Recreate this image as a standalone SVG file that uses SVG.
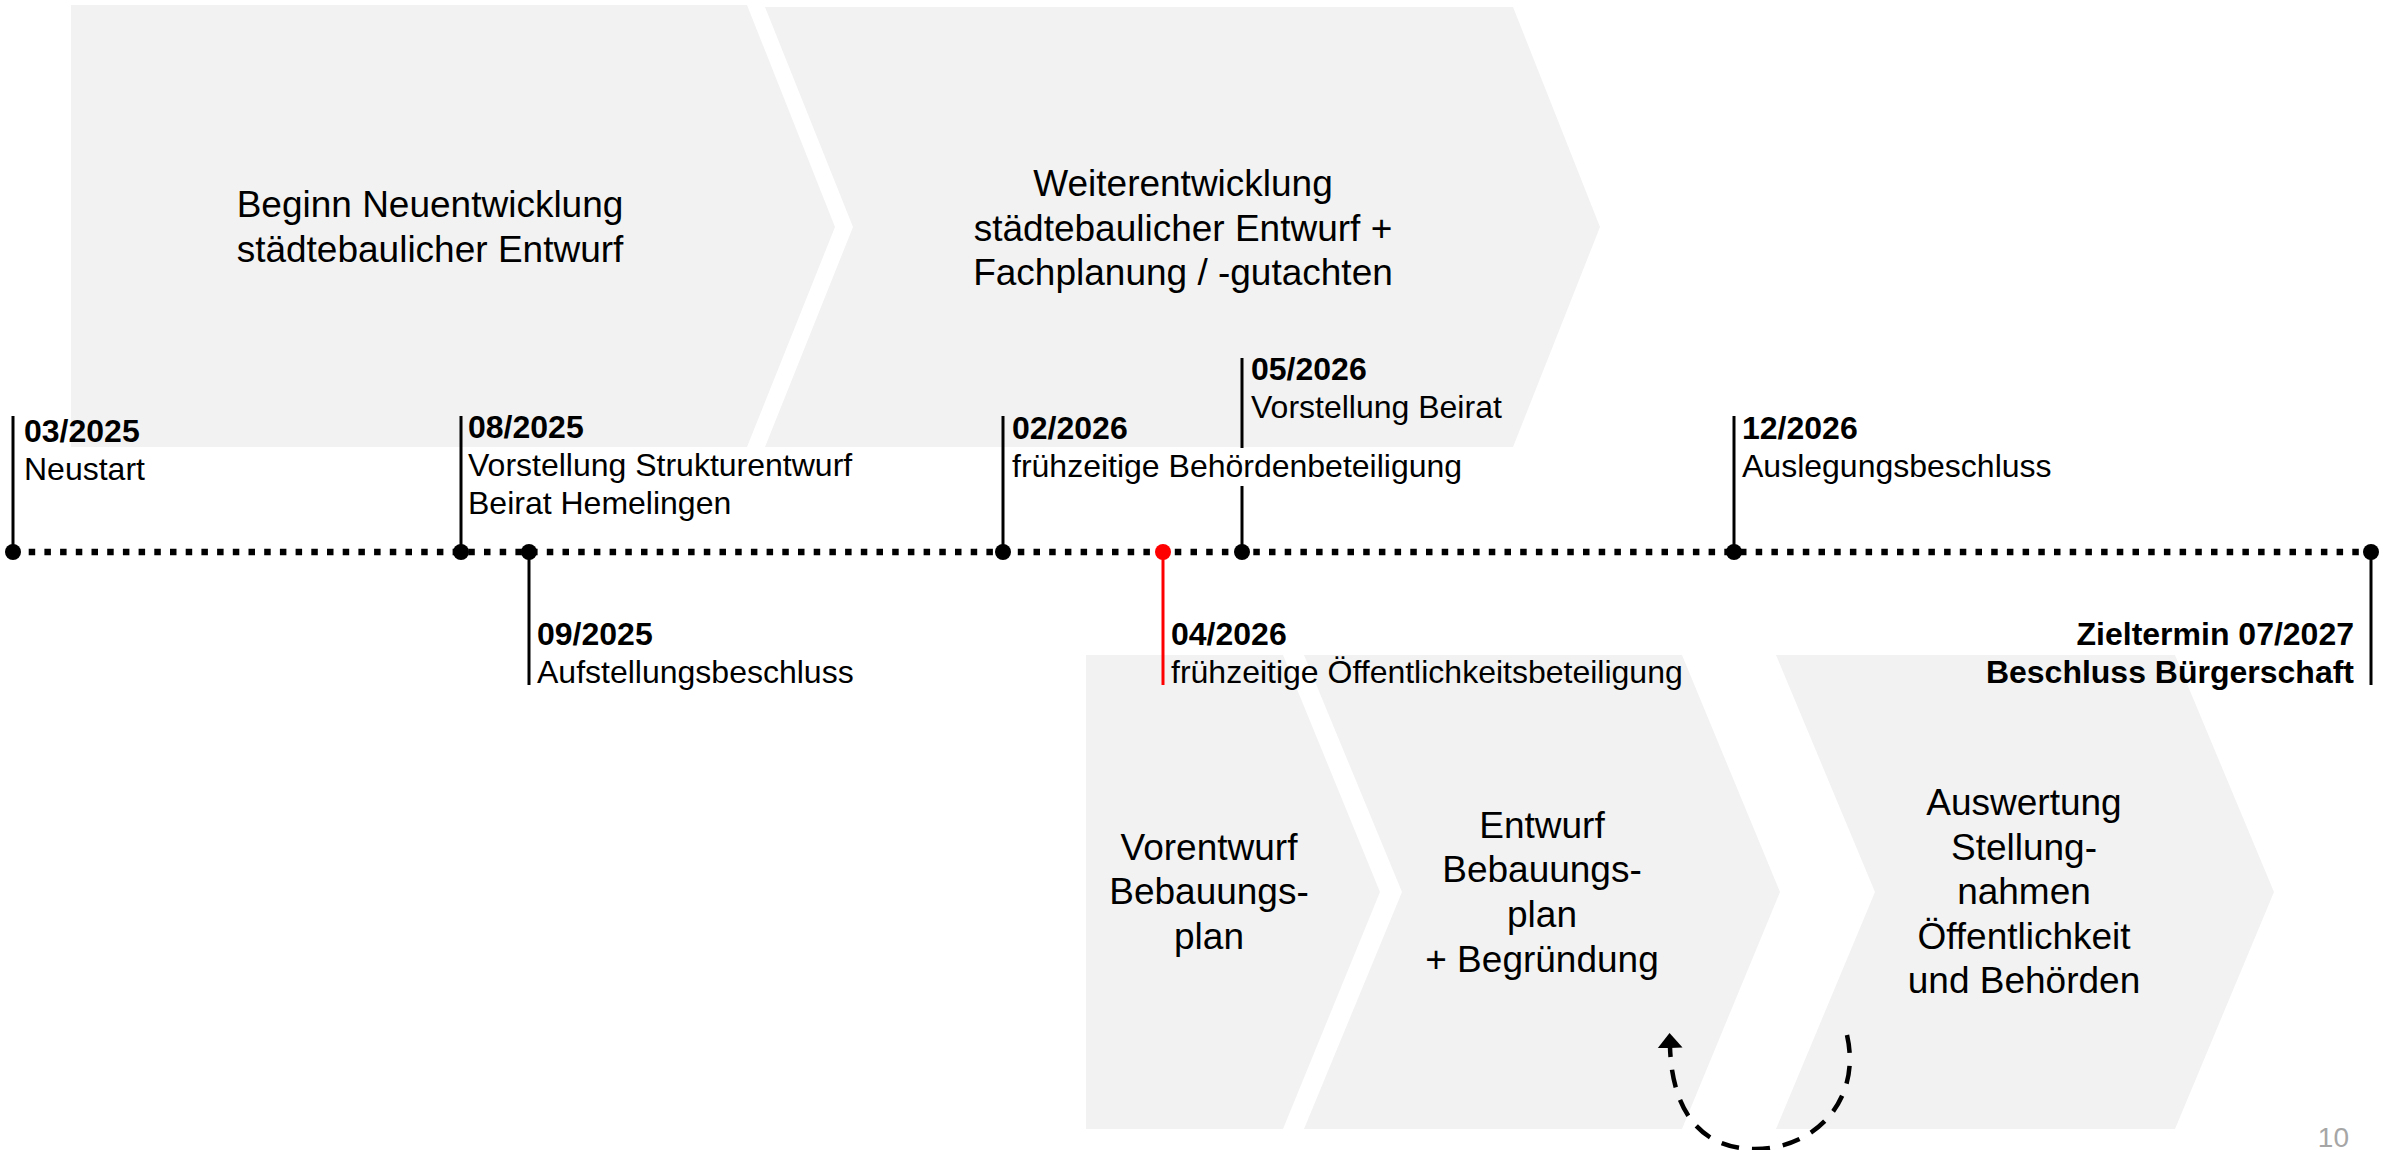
<svg xmlns="http://www.w3.org/2000/svg" width="2395" height="1150" viewBox="0 0 2395 1150">
<style>
.chev{fill:#F2F2F2;stroke:none}
.ct{font-family:"Liberation Sans",Arial,sans-serif;font-size:37px;fill:#000;text-anchor:middle}
.lb{font-family:"Liberation Sans",Arial,sans-serif;font-size:32px;fill:#000}
.b{font-weight:bold}
.tick{stroke:#000;stroke-width:3;fill:none}
.red{stroke:#FF0000;stroke-width:3;fill:none}
.dot{fill:#000}
</style>
<defs>
<marker id="arr" viewBox="0 0 15 25" refX="1" refY="12.5" markerWidth="15" markerHeight="25" markerUnits="userSpaceOnUse" orient="auto">
<path d="M0,0 L15,12.5 L0,25 z" fill="#000"/>
</marker>
</defs>
<rect width="2395" height="1150" fill="#FFFFFF"/>

<g id="phase-beginn">
<polygon class="chev" points="71,5 747,5 835,227 747,447 71,447"/>
<text class="ct" x="430" y="217">Beginn Neuentwicklung</text>
<text class="ct" x="430" y="262">städtebaulicher Entwurf</text>
</g>
<g id="phase-weiterentwicklung">
<polygon class="chev" points="765,7 1513,7 1600,227 1513,447 765,447 853,227"/>
<text class="ct" x="1183" y="196">Weiterentwicklung</text>
<text class="ct" x="1183" y="241">städtebaulicher Entwurf +</text>
<text class="ct" x="1183" y="285">Fachplanung / -gutachten</text>
</g>
<g id="phase-vorentwurf">
<polygon class="chev" points="1086,655 1283,655 1380,892 1283,1129 1086,1129"/>
<text class="ct" x="1209" y="860">Vorentwurf</text>
<text class="ct" x="1209" y="904">Bebauungs-</text>
<text class="ct" x="1209" y="949">plan</text>
</g>
<g id="phase-entwurf">
<polygon class="chev" points="1304,655 1682,655 1780,892 1682,1129 1304,1129 1402,892"/>
<text class="ct" x="1542" y="838">Entwurf</text>
<text class="ct" x="1542" y="882">Bebauungs-</text>
<text class="ct" x="1542" y="927">plan</text>
<text class="ct" x="1542" y="972">+ Begründung</text>
</g>
<g id="phase-auswertung">
<polygon class="chev" points="1776,655 2175,655 2274,892 2175,1129 1776,1129 1875,892"/>
<text class="ct" x="2024" y="815">Auswertung</text>
<text class="ct" x="2024" y="860">Stellung-</text>
<text class="ct" x="2024" y="904">nahmen</text>
<text class="ct" x="2024" y="949">Öffentlichkeit</text>
<text class="ct" x="2024" y="993">und Behörden</text>
</g>

<g id="connectors">
<line x1="13" y1="552" x2="2371" y2="552" stroke="#000" stroke-width="6.5" stroke-dasharray="6.5 9.2"/>
<path d="M1847,1035 C1862,1100 1815,1149 1755,1149 C1700,1149 1672,1110 1670,1047" fill="none" stroke="#000" stroke-width="4.5" stroke-dasharray="18 13" marker-end="url(#arr)"/>
</g>

<g id="m-03-2025">
<line class="tick" x1="13" y1="416" x2="13" y2="552"/>
<circle class="dot" cx="13" cy="552" r="8"/>
<text class="lb b" x="24" y="442">03/2025</text>
<text class="lb" x="24" y="480">Neustart</text>
</g>
<g id="m-08-2025">
<line class="tick" x1="461" y1="416" x2="461" y2="552"/>
<circle class="dot" cx="461" cy="552" r="8"/>
<text class="lb b" x="468" y="438">08/2025</text>
<text class="lb" x="468" y="476">Vorstellung Strukturentwurf</text>
<text class="lb" x="468" y="514">Beirat Hemelingen</text>
</g>
<g id="m-09-2025">
<line class="tick" x1="529" y1="552" x2="529" y2="685"/>
<circle class="dot" cx="529" cy="552" r="8"/>
<text class="lb b" x="537" y="645">09/2025</text>
<text class="lb" x="537" y="683">Aufstellungsbeschluss</text>
</g>
<g id="m-02-2026">
<line class="tick" x1="1003" y1="416" x2="1003" y2="552"/>
<circle class="dot" cx="1003" cy="552" r="8"/>
<text class="lb b" x="1012" y="439">02/2026</text>
<text class="lb" x="1012" y="477">frühzeitige Behördenbeteiligung</text>
</g>
<g id="m-04-2026">
<line class="red" x1="1163" y1="552" x2="1163" y2="685"/>
<circle cx="1163" cy="552" r="8" fill="#FF0000"/>
<text class="lb b" x="1171" y="645">04/2026</text>
<text class="lb" x="1171" y="683">frühzeitige Öffentlichkeitsbeteiligung</text>
</g>
<g id="m-05-2026">
<line class="tick" x1="1242" y1="358" x2="1242" y2="448"/>
<line class="tick" x1="1242" y1="486" x2="1242" y2="552"/>
<circle class="dot" cx="1242" cy="552" r="8"/>
<text class="lb b" x="1251" y="380">05/2026</text>
<text class="lb" x="1251" y="418">Vorstellung Beirat</text>
</g>
<g id="m-12-2026">
<line class="tick" x1="1734" y1="416" x2="1734" y2="552"/>
<circle class="dot" cx="1734" cy="552" r="8"/>
<text class="lb b" x="1742" y="439">12/2026</text>
<text class="lb" x="1742" y="477">Auslegungsbeschluss</text>
</g>
<g id="m-07-2027">
<line class="tick" x1="2371" y1="552" x2="2371" y2="685"/>
<circle class="dot" cx="2371" cy="552" r="8"/>
<text class="lb b" x="2354" y="645" text-anchor="end">Zieltermin 07/2027</text>
<text class="lb b" x="2354" y="683" text-anchor="end">Beschluss Bürgerschaft</text>
</g>

<text x="2349" y="1147" font-family="'Liberation Sans',Arial,sans-serif" font-size="28" fill="#A6A6A6" text-anchor="end">10</text>
</svg>
